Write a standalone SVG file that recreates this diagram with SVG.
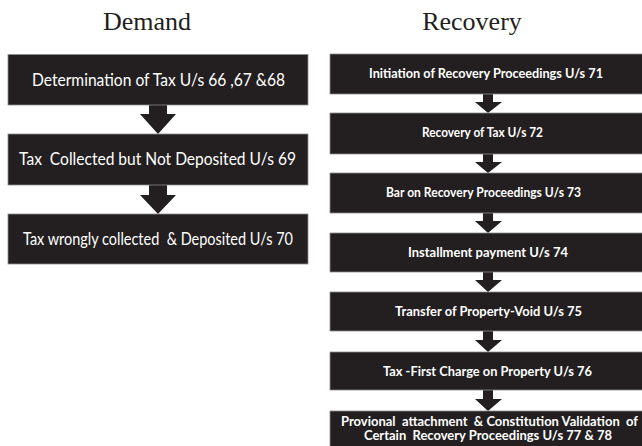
<svg xmlns="http://www.w3.org/2000/svg" width="642" height="446" viewBox="0 0 642 446">
<style>
.title{font-family:"Liberation Serif","Times New Roman",serif;font-size:26px;fill:#231f20;text-anchor:middle}
.box{fill:#231f20;stroke:#8c8c8c;stroke-width:0.8}
.arr{fill:#231f20}
.tl{font-family:Lato,"Open Sans",sans-serif;font-size:17px;fill:#ffffff;text-anchor:middle}
.tr{font-family:Lato,"Open Sans",sans-serif;font-size:13.5px;font-weight:bold;fill:#ffffff;text-anchor:middle}
.t7{font-family:Lato,"Open Sans",sans-serif;font-size:13px;font-weight:bold;fill:#ffffff;text-anchor:middle}
</style>
<rect width="642" height="446" fill="#ffffff"/>
<text class="title" x="147" y="30">Demand</text>
<text class="title" x="472" y="30">Recovery</text>

<g id="connectors">
<polygon class="arr" points="149,105 167,105 167,114 176,114 158,134 140,114 149,114"/>
<polygon class="arr" points="149,185 167,185 167,195 176,195 158,214 140,195 149,195"/>
<polygon class="arr" points="483,94 493,94 493,102 502,102 488,113 475,102 483,102"/>
<polygon class="arr" points="483,154 493,154 493,162 502,162 488,173 475,162 483,162"/>
<polygon class="arr" points="483,213 493,213 493,221 502,221 488,233 475,221 483,221"/>
<polygon class="arr" points="483,272 493,272 493,280 502,280 488,292 475,280 483,280"/>
<polygon class="arr" points="483,331 493,331 493,340 502,340 488,352 475,340 483,340"/>
<polygon class="arr" points="483,390 493,390 493,399 502,399 488,411 475,399 483,399"/>
</g>

<g id="d1"><rect class="box" x="8" y="54.5" width="300" height="50.5"/><text class="tl" x="158.5" y="86" textLength="253" lengthAdjust="spacingAndGlyphs">Determination of Tax U/s 66 ,67 &amp;68</text></g>
<g id="d2"><rect class="box" x="8" y="134" width="300" height="51"/><text class="tl" x="157.5" y="165" textLength="277" lengthAdjust="spacingAndGlyphs" xml:space="preserve">Tax  Collected but Not Deposited U/s 69</text></g>
<g id="d3"><rect class="box" x="8" y="214" width="300" height="50"/><text class="tl" x="158" y="245" textLength="270" lengthAdjust="spacingAndGlyphs" xml:space="preserve">Tax wrongly collected  &amp; Deposited U/s 70</text></g>

<g id="r1"><rect class="box" x="330" y="54" width="320" height="40"/><text class="tr" x="486" y="78" textLength="234" lengthAdjust="spacingAndGlyphs">Initiation of Recovery Proceedings U/s 71</text></g>
<g id="r2"><rect class="box" x="330" y="113" width="320" height="41"/><text class="tr" x="482.5" y="137" textLength="121" lengthAdjust="spacingAndGlyphs">Recovery of Tax U/s 72</text></g>
<g id="r3"><rect class="box" x="330" y="173" width="320" height="40"/><text class="tr" x="483.5" y="197" textLength="195" lengthAdjust="spacingAndGlyphs">Bar on Recovery Proceedings U/s 73</text></g>
<g id="r4"><rect class="box" x="330" y="233" width="320" height="39"/><text class="tr" x="488" y="257" textLength="160" lengthAdjust="spacingAndGlyphs">Installment payment U/s 74</text></g>
<g id="r5"><rect class="box" x="330" y="292" width="320" height="39"/><text class="tr" x="488.5" y="316" textLength="187" lengthAdjust="spacingAndGlyphs">Transfer of Property-Void U/s 75</text></g>
<g id="r6"><rect class="box" x="330" y="352" width="320" height="38"/><text class="tr" x="487.5" y="376" textLength="209" lengthAdjust="spacingAndGlyphs">Tax -First Charge on Property U/s 76</text></g>
<g id="r7"><rect class="box" x="330" y="411" width="320" height="40"/><text class="t7" x="489.5" y="425.5" textLength="297" lengthAdjust="spacingAndGlyphs" xml:space="preserve">Provional  attachment  &amp; Constitution Validation  of</text><text class="t7" x="488" y="440" textLength="248" lengthAdjust="spacingAndGlyphs" xml:space="preserve">Certain  Recovery Proceedings U/s 77 &amp; 78</text></g>
</svg>
